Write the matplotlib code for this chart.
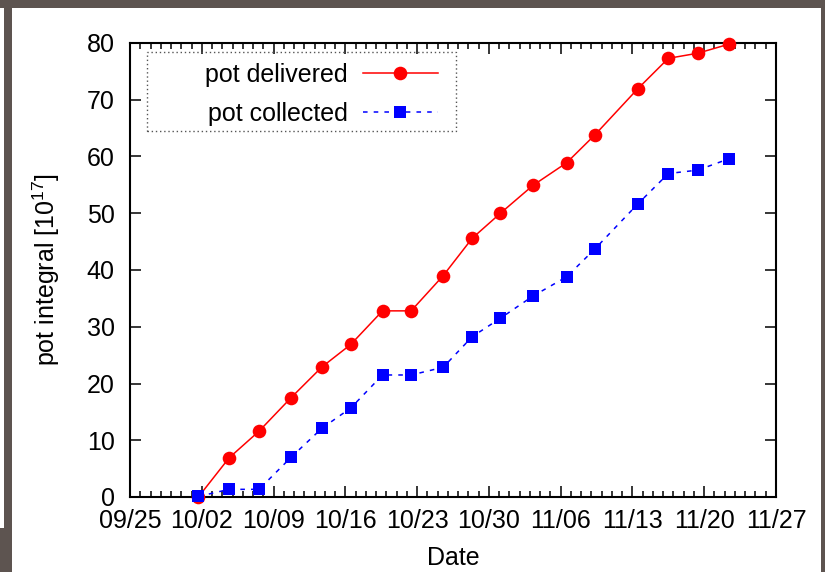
import matplotlib
matplotlib.use("Agg")
import matplotlib.pyplot as plt
import matplotlib.dates as mdates
from matplotlib.patches import Rectangle
from datetime import datetime

plt.rcParams['font.family'] = ['Liberation Sans', 'DejaVu Sans']
plt.rcParams['mathtext.default'] = 'regular'

# ---- data ----
dates = ["2010-10-01 16:00", "2010-10-04 16:00", "2010-10-07 14:00", "2010-10-10 17:00",
         "2010-10-13 17:00", "2010-10-16 13:00", "2010-10-19 15:00", "2010-10-22 10:00",
         "2010-10-25 13:00", "2010-10-28 09:00", "2010-10-31 03:00", "2010-11-03 07:00",
         "2010-11-06 14:00", "2010-11-09 08:00", "2010-11-13 12:00", "2010-11-16 12:00",
         "2010-11-19 09:00", "2010-11-22 10:00"]
pot_delivered = [0.0, 6.9, 11.6, 17.5, 22.9, 26.9, 32.8, 32.8, 39.0, 45.6,
                 50.0, 54.9, 58.9, 63.8, 71.9, 77.3, 78.2, 79.8]
pot_collected = [0.1, 1.35, 1.35, 7.0, 12.1, 15.7, 21.5, 21.5, 22.85, 28.25,
                 31.5, 35.4, 38.8, 43.7, 51.6, 57.0, 57.6, 59.6]
tick_labels = ["09/25", "10/02", "10/09", "10/16", "10/23", "10/30",
               "11/06", "11/13", "11/20", "11/27"]
series_labels = ["pot delivered", "pot collected"]
year = 2010

x = [datetime.strptime(d, "%Y-%m-%d %H:%M") for d in dates]
tick_dates = [datetime.strptime(f"{year}/{t}", "%Y/%m/%d") for t in tick_labels]

FS = 18
dark = '#5d5450'
fig = plt.figure(figsize=(8.25, 5.72), dpi=100, facecolor=dark)
# white slide area
fig.patches.append(Rectangle((12/825, 0), (821-12)/825, 1 - 8/572,
                             transform=fig.transFigure, facecolor='white',
                             edgecolor='none', zorder=-10))
fig.patches.append(Rectangle((0, 44/572), 4/825, 1 - 8/572 - 44/572,
                             transform=fig.transFigure, facecolor='white',
                             edgecolor='none', zorder=-8))

ax = fig.add_axes([130/825, 1 - 497/572, (776-130)/825, (497-43)/572])

l1, = ax.plot(x, pot_delivered, color='#ff0000', lw=1.1, marker='o', markersize=9.8,
              markeredgewidth=0, label=series_labels[0], clip_on=False, zorder=3)
l2, = ax.plot(x, pot_collected, color='#0000ff', lw=1.1, ls=(0, (3, 4)), marker='s',
              markersize=8.4, markeredgewidth=0, label=series_labels[1], clip_on=False,
              zorder=4)

ax.set_xlim(tick_dates[0], tick_dates[-1])
ax.set_ylim(0, 80)
ax.set_xticks(tick_dates)
ax.set_xticklabels(tick_labels)
ax.xaxis.set_minor_locator(mdates.DayLocator())
ax.set_yticks(range(0, 81, 10))

ax.tick_params(axis='both', which='both', direction='in', top=True, right=True,
               labelsize=FS, width=1.1, color='black')
ax.tick_params(axis='both', which='major', length=8)
ax.tick_params(axis='both', which='minor', length=4)
ax.tick_params(axis='x', which='major', pad=9)
ax.tick_params(axis='y', which='major', pad=11)
for s in ax.spines.values():
    s.set_linewidth(1.5)

ax.set_xlabel("Date", fontsize=FS, labelpad=9)
ax.set_ylabel("pot integral [10$^{17}$]", fontsize=FS, labelpad=18)

leg = ax.legend(handles=[l1, l2], loc='upper left',
                bbox_to_anchor=((205-130)/646, (497-63)/454),
                frameon=False, markerfirst=False, fontsize=FS, borderpad=0,
                handlelength=3.0, handletextpad=0.6, labelspacing=0.6,
                borderaxespad=0)
ax.add_patch(Rectangle(((147-130)/646, (497-131)/454), (456-147)/646, (131-52)/454,
                       transform=ax.transAxes, fill=False, edgecolor='#555555',
                       linestyle=(0, (1, 2)), lw=1.0, zorder=5))

fig.savefig("out.png", dpi=100, facecolor=fig.get_facecolor())
